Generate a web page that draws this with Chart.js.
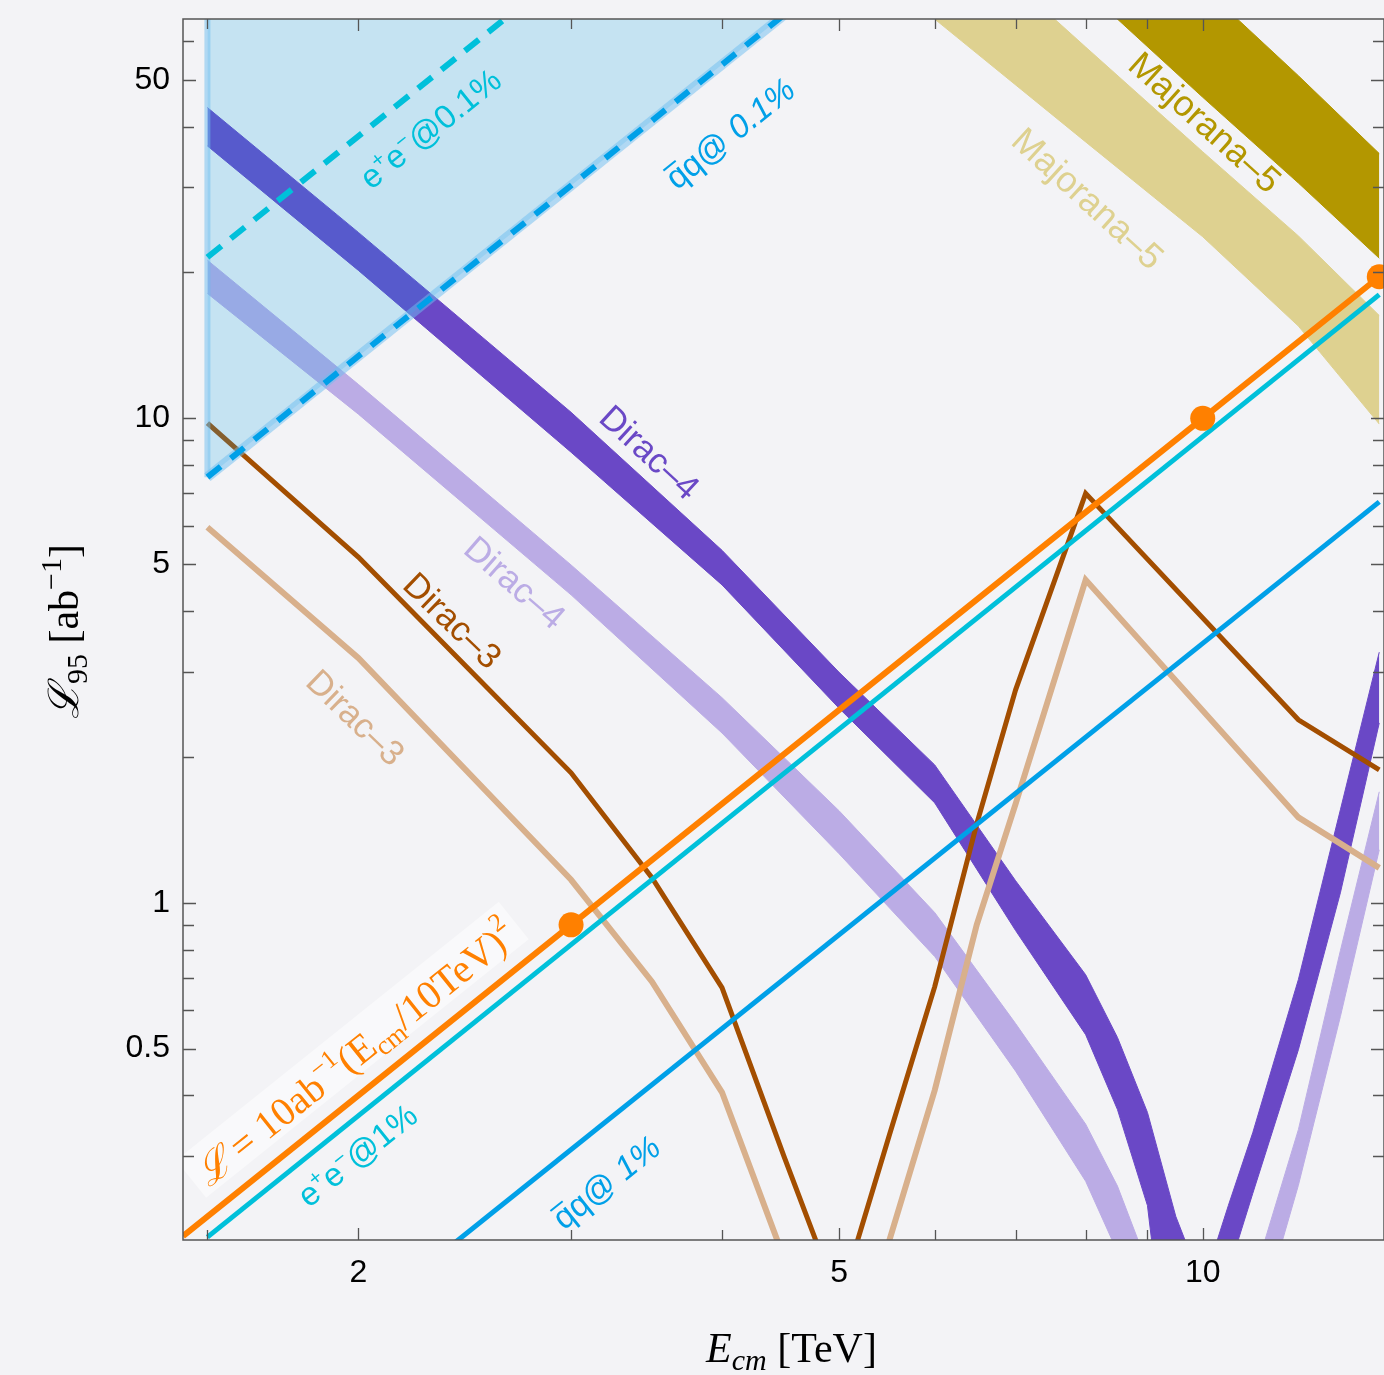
<!DOCTYPE html>
<html>
<head>
<meta charset="utf-8">
<script src="https://cdn.jsdelivr.net/npm/chart.js@4.4.1/dist/chart.umd.min.js"></script>
<style>
  html, body { margin: 0; padding: 0; background: #f3f3f6; overflow: hidden; width: 1384px; height: 1375px; }
  #wrap { width: 1384px; height: 1375px; position: absolute; left: 0; top: 0; }
</style>
</head>
<body>
<div id="wrap"><canvas id="chart"></canvas></div>
<script>
// ---------------- axis ranges & ticks ----------------
const X_MIN = 1.4318, X_MAX = 14.127;
const Y_MIN = 0.2012, Y_MAX = 66.73;
const E_TICKS = [1.5, 2, 3, 4, 5, 6, 7, 8, 9, 10];
const E_LABELED = [2, 5, 10];
const L_TICKS = [0.3, 0.4, 0.5, 0.6, 0.7, 0.8, 0.9, 1, 2, 3, 4, 5, 6, 7, 8, 9, 10, 20, 30, 40, 50, 60];
const L_LABELED = [0.5, 1, 5, 10, 50];

// ---------------- Dirac-3 (thin curves) ----------------
const dirac3DarkE = [1.5, 2, 3, 3.5, 4, 4.5, 5, 5.5, 6, 6.5, 7, 8, 12, 14];
const dirac3DarkL = [9.77, 5.17, 1.854, 1.126, 0.668, 0.30, 0.15, 0.33, 0.671, 1.455, 2.75, 7.0, 2.385, 1.88];
const dirac3LightE = [1.5, 2, 3, 3.5, 4, 4.5, 5, 5.5, 6, 6.5, 7, 8, 12, 14];
const dirac3LightL = [5.96, 3.20, 1.115, 0.687, 0.406, 0.185, 0.09, 0.20, 0.41, 0.90, 1.60, 4.64, 1.50, 1.18];

// ---------------- Dirac-4 (bands: upper / lower edge) ----------------
const dirac4E = [1.5, 2, 3, 4, 5, 6, 7, 8, 8.5, 9, 9.5, 10, 10.5, 11, 12, 13, 14];
const dirac4DarkHi = [43.8, 24.2, 10.29, 5.34, 2.99, 1.925, 1.11, 0.710, 0.527, 0.369, 0.225, 0.162, 0.237, 0.335, 0.694, 1.555, 3.29];
const dirac4DarkLo = [36.5, 20.2, 8.51, 4.53, 2.52, 1.607, 0.876, 0.534, 0.374, 0.237, 0.077, 0.05, 0.173, 0.251, 0.497, 1.048, 2.35];
const dirac4LightHi = [21.2, 11.75, 4.98, 2.65, 1.548, 0.954, 0.563, 0.349, 0.260, 0.179, 0.10, 0.07, 0.09, 0.166, 0.340, 0.796, 1.694];
const dirac4LightLo = [18.1, 10.2, 4.32, 2.24, 1.262, 0.774, 0.449, 0.266, 0.190, 0.12, 0.07, 0.05, 0.07, 0.123, 0.261, 0.582, 1.286];

// ---------------- Majorana-5 (bands) ----------------
const majDarkE = [8, 10, 12, 14];
const majDarkHi = [131.7, 77.8, 50.96, 35.2];
const majDarkLo = [76.6, 46.0, 30.6, 21.4];
const majLightE = [6, 8, 10, 12, 14];
const majLightHi = [111.5, 58.4, 35.5, 23.8, 16.3];
const majLightLo = [66.7, 37.2, 23.7, 15.5, 9.73];

// ---------------- straight reference lines ----------------
const lumiE = [1.4318, 3, 10, 14];           // L = 10 ab^-1 (E/10TeV)^2
const lumiL = [0.205, 0.9, 10, 19.6];
const lumiMarker = [0, 12.5, 12.5, 12.5];
const ee1E = [1.5, 14];   const ee1L = [0.204, 18.0];     // e+e- @1%
const qq1E = [2.4, 14];   const qq1L = [0.198, 6.72];     // qq @1%
const ee01E = [1.5, 2.65]; const ee01L = [21.5, 67.1];    // e+e- @0.1%
const qq01E = [1.5, 4.5];  const qq01L = [7.56, 68.0];    // qq @0.1%

// ---------------- colours ----------------
const C_ORANGE = '#ff8000';
const C_CYAN = '#00c0da';
const C_BLUE = '#00a0e8';
const C_PURPLE = '#6a48c6';
const C_LPURPLE = '#bbace5';
const C_BROWN = '#a34e00';
const C_TAN = '#d8b08c';
const C_OLIVE = '#b39700';
const C_KHAKI = '#ded190';
const C_REGION = 'rgba(13,163,231,0.2)';
const C_REGION_EDGE = 'rgba(110,190,240,0.5)';

const SANS = "'Liberation Sans', Arial, Helvetica, sans-serif";
const SERIF = "'Liberation Serif', 'DejaVu Serif', serif";

function pts(xs, ys) { return xs.map((x, i) => ({ x: x, y: ys[i] })); }

const datasets = [];
function band(E, hi, lo, color, order) {
  datasets.push({ data: pts(E, hi), fill: '+1', backgroundColor: color, borderColor: color, borderWidth: 1,
                  pointRadius: 0, order: order, clip: 0, tension: 0 });
  datasets.push({ data: pts(E, lo), fill: false, borderColor: color, borderWidth: 1,
                  pointRadius: 0, order: order, clip: 0, tension: 0 });
}
function curve(E, L, color, width, order, extra) {
  datasets.push(Object.assign({ data: pts(E, L), fill: false, borderColor: color, borderWidth: width,
                  pointRadius: 0, order: order, clip: 0, tension: 0 }, extra || {}));
}

band(majLightE, majLightHi, majLightLo, C_KHAKI, 100);
band(majDarkE, majDarkHi, majDarkLo, C_OLIVE, 95);
band(dirac4E, dirac4LightHi, dirac4LightLo, C_LPURPLE, 90);
band(dirac4E, dirac4DarkHi, dirac4DarkLo, C_PURPLE, 85);
curve(dirac3LightE, dirac3LightL, C_TAN, 6, 80);
curve(dirac3DarkE, dirac3DarkL, C_BROWN, 5, 75);
// shaded region above qq@0.1%
curve(qq01E, qq01L, C_REGION_EDGE, 10, 70, { fill: 'end', backgroundColor: C_REGION });
curve([qq01E[0], qq01E[0]], [qq01L[0], Y_MAX], C_REGION_EDGE, 6, 69);
curve(qq01E, qq01L, C_BLUE, 6, 60, { borderDash: [17, 13], borderCapStyle: 'butt' });
curve(ee01E, ee01L, C_CYAN, 6, 59, { borderDash: [18, 12], borderCapStyle: 'butt' });
curve(qq1E, qq1L, C_BLUE, 5, 55);
curve(ee1E, ee1L, C_CYAN, 5, 54);
curve(lumiE, lumiL, C_ORANGE, 6, 50, { pointRadius: lumiMarker, pointBackgroundColor: C_ORANGE, pointBorderWidth: 0, pointHoverRadius: lumiMarker });

// ---------------- labels (centre in data coordinates) ----------------
const LABELS = [
  { E: 2.293, L: 39.7, ang: -38.7, color: C_CYAN, segs: [{t:'e',size:33}, {t:'+',size:21,dy:-13}, {t:'e',size:33}, {t:'\u2212',size:21,dy:-13}, {t:'@0.1%',size:33}] },
  { E: 4.06, L: 38.8, ang: -38.7, color: C_BLUE, segs: [{t:'q',size:33,bar:true}, {t:'q',size:33}, {t:'@',size:33}, {t:' 0.1%',size:33,style:'italic'}] },
  { E: 1.995, L: 0.3014, ang: -38.7, color: C_CYAN, segs: [{t:'e',size:33}, {t:'+',size:21,dy:-13}, {t:'e',size:33}, {t:'\u2212',size:21,dy:-13}, {t:'@1%',size:33}] },
  { E: 3.207, L: 0.265, ang: -38.7, color: C_BLUE, segs: [{t:'q',size:33,bar:true}, {t:'q',size:33}, {t:'@',size:33}, {t:' 1%',size:33,style:'italic'}] },
  { E: 3.487, L: 8.52, ang: 42.5, color: C_PURPLE, segs: [{t:'Dirac\u20134',size:35}] },
  { E: 2.697, L: 4.59, ang: 41, color: C_LPURPLE, segs: [{t:'Dirac\u20134',size:35}] },
  { E: 2.395, L: 3.83, ang: 44, color: C_BROWN, segs: [{t:'Dirac\u20133',size:35}] },
  { E: 1.991, L: 2.417, ang: 44, color: C_TAN, segs: [{t:'Dirac\u20133',size:35}] },
  { E: 10.05, L: 40.9, ang: 42, color: C_OLIVE, segs: [{t:'Majorana\u20135',size:36}] },
  { E: 8.04, L: 28.5, ang: 42.4, color: C_KHAKI, segs: [{t:'Majorana\u20135',size:36}] },
  { E: 1.987, L: 0.4896, ang: -38.7, color: C_ORANGE, box: true,
    segs: [{t:'\u2112',size:40,family:SERIF,style:'italic'}, {t:' = 10ab',size:40,family:SERIF}, {t:'\u22121',size:26,dy:-17,family:SERIF},
           {t:'(E',size:40,family:SERIF}, {t:'cm',size:27,dy:7,family:SERIF}, {t:'/10TeV)',size:40,family:SERIF}, {t:'2',size:26,dy:-19,family:SERIF}] }
];

function fnt(s) { return (s.style || 'normal') + ' ' + s.size + 'px ' + (s.family || SANS); }
function measureRich(ctx, segs) {
  return segs.map(s => { ctx.font = fnt(s); return ctx.measureText(s.t).width; });
}
function drawRich(ctx, segs, x, y, angle, color, baseOff) {
  ctx.save();
  ctx.translate(x, y);
  ctx.rotate(angle * Math.PI / 180);
  ctx.fillStyle = color; ctx.strokeStyle = color;
  ctx.textBaseline = 'alphabetic'; ctx.textAlign = 'left';
  const w = measureRich(ctx, segs);
  const W = w.reduce((a, b) => a + b, 0);
  let cx = -W / 2;
  segs.forEach((s, i) => {
    ctx.font = fnt(s);
    ctx.fillText(s.t, cx, baseOff + (s.dy || 0));
    if (s.bar) {
      ctx.lineWidth = s.size * 0.06;
      ctx.beginPath();
      ctx.moveTo(cx + s.size * 0.06, baseOff - s.size * 0.72);
      ctx.lineTo(cx + w[i] - s.size * 0.02, baseOff - s.size * 0.72);
      ctx.stroke();
    }
    cx += w[i];
  });
  ctx.restore();
}

const annotPlugin = {
  id: 'annot',
  beforeDatasetsDraw(chart) {
    const { ctx, scales: { x, y }, chartArea: a } = chart;
    ctx.save();
    ctx.beginPath(); ctx.rect(a.left, a.top, a.right - a.left, a.bottom - a.top); ctx.clip();
    LABELS.filter(l => l.box).forEach(l => {
      const px = x.getPixelForValue(l.E), py = y.getPixelForValue(l.L);
      const W = measureRich(ctx, l.segs).reduce((p, q) => p + q, 0);
      ctx.save();
      ctx.translate(px, py);
      ctx.rotate(l.ang * Math.PI / 180);
      ctx.fillStyle = 'rgba(255,255,255,0.5)';
      ctx.fillRect(-W / 2 - 8, -28, W + 16, 48);
      ctx.restore();
    });
    ctx.restore();
  },
  afterDatasetsDraw(chart) {
    const { ctx, scales: { x, y }, chartArea: a } = chart;
    LABELS.forEach(l => {
      const px = x.getPixelForValue(l.E), py = y.getPixelForValue(l.L);
      drawRich(ctx, l.segs, px, py, l.ang, l.color, l.segs[0].size * 0.35);
    });
    // frame + inward ticks
    ctx.save();
    ctx.strokeStyle = '#555';
    ctx.lineWidth = 1.5;
    ctx.strokeRect(a.left, a.top, a.right - a.left, a.bottom - a.top);
    ctx.lineWidth = 1.3;
    ctx.beginPath();
    E_TICKS.forEach(v => {
      const p = Math.round(x.getPixelForValue(v)) + 0.5;
      const len = E_LABELED.includes(v) ? 12 : 10;
      ctx.moveTo(p, a.bottom); ctx.lineTo(p, a.bottom - len);
      ctx.moveTo(p, a.top); ctx.lineTo(p, a.top + len);
    });
    L_TICKS.forEach(v => {
      const p = Math.round(y.getPixelForValue(v)) + 0.5;
      const len = L_LABELED.includes(v) ? 13 : 11;
      ctx.moveTo(a.left, p); ctx.lineTo(a.left + len, p);
      ctx.moveTo(a.right, p); ctx.lineTo(a.right - len, p);
    });
    ctx.stroke();
    ctx.restore();
    // axis titles
    const xc = (a.left + a.right) / 2 + 8;
    drawRich(ctx, [{t:'E',size:42,style:'italic',family:SERIF}, {t:'cm',size:30,style:'italic',dy:8,family:SERIF}, {t:' [TeV]',size:42,family:SERIF}],
             xc, 1362, 0, '#000', 0);
    drawRich(ctx, [{t:'\u2112',size:42,style:'italic',family:SERIF}, {t:'95',size:30,dy:9,family:SERIF}, {t:' [ab',size:42,family:SERIF},
                   {t:'\u22121',size:30,dy:-17,family:SERIF}, {t:']',size:42,family:SERIF}],
             78, (a.top + a.bottom) / 2 + 2, -90, '#000', 0);
  }
};

function zeroPad(s) { s.paddingLeft = 0; s.paddingRight = 0; s.paddingTop = 0; s.paddingBottom = 0; }

const tickFont = { family: SANS, size: 32 };
new Chart(document.getElementById('chart'), {
  type: 'line',
  data: { datasets: datasets },
  options: {
    responsive: true, maintainAspectRatio: false, animation: false, devicePixelRatio: 1,
    events: [],
    layout: { autoPadding: false, padding: { top: 19, right: 0, bottom: 0, left: 0 } },
    plugins: { legend: { display: false }, tooltip: { enabled: false }, title: { display: false } },
    scales: {
      x: {
        type: 'logarithmic', position: 'bottom', min: X_MIN, max: X_MAX,
        afterBuildTicks: s => { s.ticks = E_TICKS.map(v => ({ value: v })); },
        afterFit: s => { s.height = 135; zeroPad(s); },
        grid: { display: false, drawTicks: false }, border: { display: false },
        ticks: { autoSkip: false, maxRotation: 0, minRotation: 0, padding: 14, color: '#000', font: tickFont,
                 callback: v => E_LABELED.includes(v) ? String(v) : '' }
      },
      y: {
        type: 'logarithmic', position: 'left', min: Y_MIN, max: Y_MAX,
        afterBuildTicks: s => { s.ticks = L_TICKS.map(v => ({ value: v })); },
        afterFit: s => { s.width = 183; zeroPad(s); },
        grid: { display: false, drawTicks: false }, border: { display: false },
        ticks: { autoSkip: false, padding: 13, color: '#000', font: tickFont,
                 callback: v => L_LABELED.includes(v) ? String(v) : '' }
      }
    }
  },
  plugins: [annotPlugin]
});
</script>
</body>
</html>
